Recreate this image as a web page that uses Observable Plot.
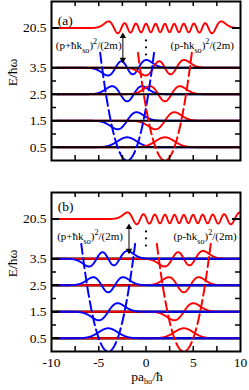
<!DOCTYPE html>
<html><head><meta charset="utf-8">
<script src="https://cdn.jsdelivr.net/npm/d3@7"></script>
<script src="https://cdn.jsdelivr.net/npm/@observablehq/plot@0.6"></script>
<style>
body{margin:0;background:#fff;}
#chart svg{display:block;}
#chart svg, #chart svg text{font-family:"Liberation Serif","DejaVu Serif","Times New Roman",serif !important;}
</style></head><body><div id="chart"></div>
<script>
// ---- data ----
const panelLabels = ["(a)", "(b)"];
const kso = [2, 4];                       // wells centred at p = -k (blue) and +k (red)
const lowLevels = [0.5, 1.5, 2.5, 3.5];   // E/ħω = n + 1/2
const highN = 20;                         // the n = 20 level, E = 20.5
const highLevelShown = 5;                 // where 20.5 sits on the broken axis
const yTickValues = [0.5, 1.5, 2.5, 3.5, 5];
const yTickLabels = ["0.5", "1.5", "2.5", "3.5", "20.5"];
const yMinorTicks = [1, 2, 3];
const xTickValues = [-10, -5, 0, 5, 10];
const xMinorTicks = [-7.5, -5, -2.5, 0, 2.5, 5, 7.5];
const waveAmplitude = 0.5;
const parabolaHalfWidth = 2.85;
const formulaLeft = "(p+ħk_{so})^{2}/(2m)";
const formulaRight = "(p-ħk_{so})^{2}/(2m)";
const xLabel = "pa_{ho}/ħ";
const yLabel = "E/ħω";
const dotsY = [4.0, 4.27, 4.53];

// harmonic-oscillator eigenfunctions
function psi(n, x) {
  let p0 = Math.pow(Math.PI, -0.25) * Math.exp(-x * x / 2);
  if (n === 0) return p0;
  let p1 = Math.SQRT2 * x * p0;
  for (let k = 1; k < n; k++) {
    const p2 = Math.sqrt(2 / (k + 1)) * x * p1 - Math.sqrt(k / (k + 1)) * p0;
    p0 = p1; p1 = p2;
  }
  return p1;
}

const grid = d3.range(-9.3, 10.0001, 0.02);
const FONT = "Liberation Serif";

function richText(svg) {
  svg.querySelectorAll("text").forEach(t => {
    const s = t.textContent;
    if (!/[_^]\{/.test(s)) return;
    const F = parseFloat(t.getAttribute("font-size") || getComputedStyle(t).fontSize) || 12;
    while (t.firstChild) t.removeChild(t.firstChild);
    const re = /([_^])\{([^}]*)\}|([^_^]+)/g;
    let m, cur = 0;
    while ((m = re.exec(s))) {
      const ts = document.createElementNS("http://www.w3.org/2000/svg", "tspan");
      let target = 0, txt;
      if (m[1]) {
        txt = m[2];
        target = m[1] === "_" ? 0.3 * F : -0.45 * F;
        ts.setAttribute("font-size", (0.68 * F).toFixed(2));
      } else txt = m[3];
      ts.setAttribute("dy", (target - cur).toFixed(2));
      cur = target;
      ts.textContent = txt;
      t.appendChild(ts);
    }
  });
}

function panel(i) {
  const k = kso[i];
  const bottom = i === 1;
  const W = 189, H = 159;
  const blue = lowLevels.flatMap((E, n) => grid.map(x => ({n, x, y: E + waveAmplitude * psi(n, x + k)})));
  const red = lowLevels.flatMap((E, n) => grid.map(x => ({n, x, y: E + waveAmplitude * psi(n, x - k)})));
  const redHigh = grid.map(x => ({x, y: highLevelShown + waveAmplitude * psi(highN, x - k)}));
  const pgrid = d3.range(-parabolaHalfWidth, parabolaHalfWidth + 1e-9, 0.05);
  const parBlue = pgrid.map(q => ({x: q - k, y: q * q / 2}));
  const parRed = pgrid.map(q => ({x: q + k, y: q * q / 2}));

  const blueMark = Plot.line(blue, {x: "x", y: "y", z: "n", stroke: "#0000ff", strokeWidth: 1.9, clip: true});
  const redMark = Plot.line(red, {x: "x", y: "y", z: "n", stroke: "#ff0000", strokeWidth: 1.9, clip: true});
  const redHighMark = Plot.line(redHigh, {x: "x", y: "y", stroke: "#ff0000", strokeWidth: 1.9, clip: true});
  const baseMark = Plot.ruleY(lowLevels, {stroke: "black", strokeWidth: bottom ? 2.4 : 2});

  const curves = bottom
    ? [baseMark, redMark, redHighMark, blueMark]
    : [blueMark, redMark, redHighMark, baseMark];

  const ax = bottom ? -1.8 : -2.45;

  const plot = Plot.plot({
    width: 249,
    height: bottom ? 214 : 176,
    marginLeft: 51, marginRight: 9,
    marginTop: bottom ? 16 : 1,
    marginBottom: bottom ? 39 : 16,
    style: {fontFamily: FONT, fontSize: "13px", background: "white", overflow: "visible"},
    x: {domain: [-10, 10]},
    y: {domain: [0, 6]},
    marks: [
      ...curves,
      Plot.line(parBlue, {x: "x", y: "y", stroke: "#0000ff", strokeWidth: 2, strokeDasharray: "10,4.5", clip: true}),
      Plot.line(parRed, {x: "x", y: "y", stroke: "#ff0000", strokeWidth: 2, strokeDasharray: "10,4.5", clip: true}),
      // inward ticks
      Plot.tickX(xMinorTicks, {x: d => d, insetTop: H - 5, stroke: "black", strokeWidth: 1.5}),
      Plot.tickX(xMinorTicks, {x: d => d, insetBottom: H - 5, stroke: "black", strokeWidth: 1.5}),
      Plot.tickY(yMinorTicks, {y: d => d, insetRight: W - 5, stroke: "black", strokeWidth: 1.5}),
      Plot.tickY(yMinorTicks, {y: d => d, insetLeft: W - 5, stroke: "black", strokeWidth: 1.5}),
      Plot.tickY(yTickValues, {y: d => d, insetRight: W - 8, stroke: "black", strokeWidth: 2}),
      Plot.tickY([highLevelShown], {y: d => d, insetLeft: W - 8, stroke: "black", strokeWidth: 2}),
      Plot.frame({stroke: "black", strokeWidth: 2}),
      Plot.axisY(yTickValues, {tickSize: 0, tickPadding: 5, label: null, fontSize: 13.5, fontFamily: FONT,
        tickFormat: d => yTickLabels[yTickValues.indexOf(d)]}),
      bottom
        ? Plot.axisX(xTickValues, {tickSize: 0, tickPadding: 6, label: null, fontSize: 13.5, fontFamily: FONT, tickFormat: d => String(d)})
        : Plot.axisX([], {label: null}),
      // arrow and dots
      Plot.link([0], {x1: ax, x2: ax, y1: 3.74, y2: 4.76, stroke: "black", strokeWidth: 1}),
      Plot.dot([0], {x: ax, y: 4.69, symbol: "triangle", r: 2.4, fill: "black", stroke: "none"}),
      Plot.dot([0], {x: ax, y: 3.81, symbol: "triangle", r: 2.4, fill: "black", stroke: "none", rotate: 180}),
      Plot.dot(dotsY, {x: 0, y: d => d, r: 1.1, fill: "black"}),
      // texts
      Plot.text([panelLabels[i]], {x: -9.35, y: bottom ? 5.46 : 5.28, textAnchor: "start", fontSize: 13.5, fontFamily: FONT}),
      Plot.text([formulaLeft], {x: bottom ? -9.4 : -9.55, y: 4.33, textAnchor: "start", fontSize: 11, fontFamily: FONT}),
      Plot.text([formulaRight], {x: bottom ? 2.9 : 2.6, y: 4.33, textAnchor: "start", fontSize: 11, fontFamily: FONT}),
      Plot.text([yLabel], {frameAnchor: "left", y: 2.8, dx: -39, rotate: -90, fontSize: 13.5, fontFamily: FONT}),
      bottom ? Plot.text([xLabel], {x: 0.1, frameAnchor: "bottom", dy: 29, fontSize: 13.5, fontFamily: FONT}) : null
    ]
  });
  richText(plot);
  return plot;
}

const root = document.getElementById("chart");
root.appendChild(panel(0));
root.appendChild(panel(1));
</script></body></html>
